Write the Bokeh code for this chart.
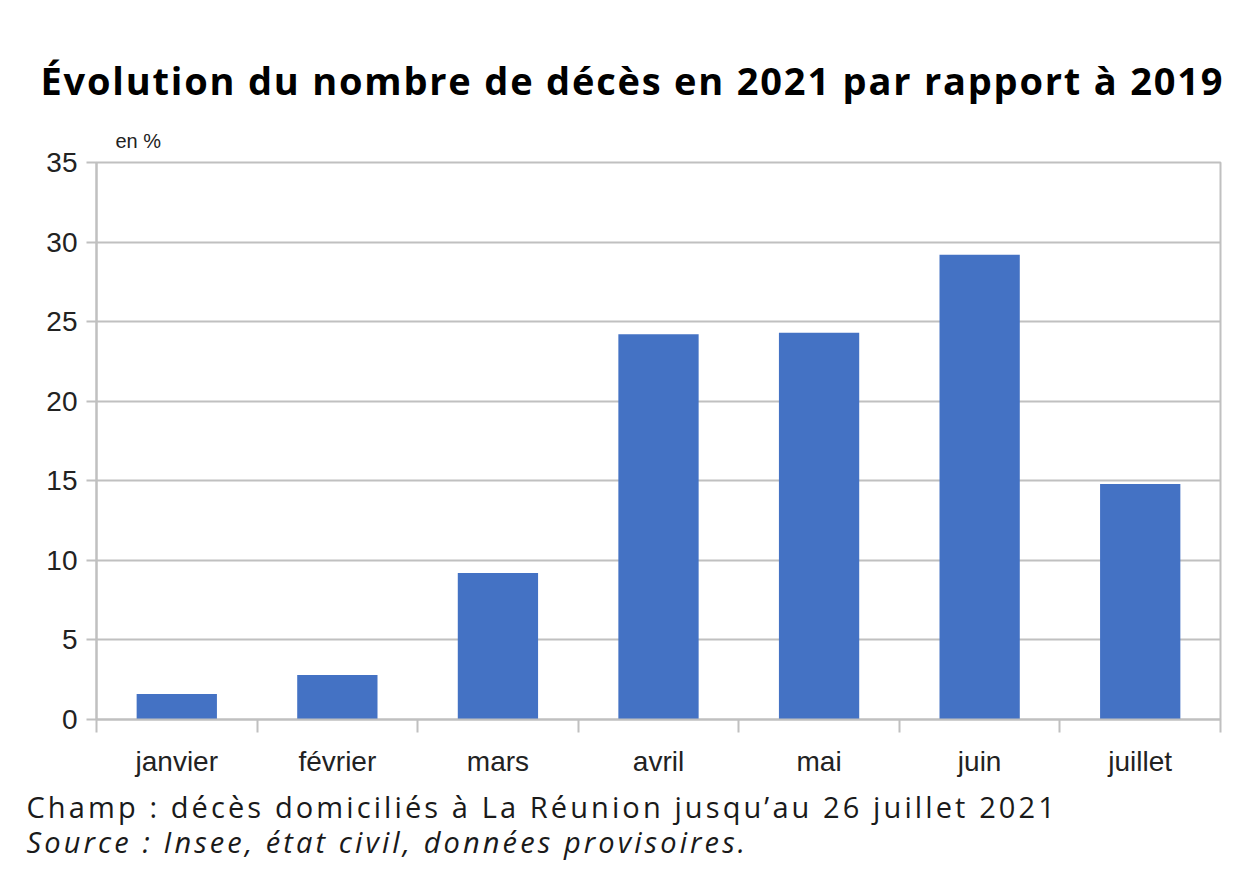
from bokeh.plotting import figure
from bokeh.models import Title, FixedTicker, Range1d, InlineStyleSheet, Label
from bokeh.layouts import column
from bokeh.embed import file_html
from bokeh.resources import INLINE

months = ["janvier", "février", "mars", "avril", "mai", "juin", "juillet"]
evolution = [1.6, 2.8, 9.2, 24.2, 24.3, 29.2, 14.8]
y_ticks = [0, 5, 10, 15, 20, 25, 30, 35]

title_text = "Évolution du nombre de décès en 2021 par rapport à 2019"
unit_text = "en %"
champ_text = "Champ : décès domiciliés à La Réunion jusqu’au 26 juillet 2021"
source_text = "Source : Insee, état civil, données provisoires."

W = 1241
HEAD_H, MAIN_H, FOOT_H = 110, 670, 91
grey = "#c0c0c0"


def text_panel(height, spacing):
    f = figure(width=W, height=height, output_backend="svg", toolbar_location=None,
               x_axis_location=None, y_axis_location=None,
               x_range=Range1d(0, 1), y_range=Range1d(0, 1),
               min_border=0, title=None, frame_align=False)
    f.outline_line_color = None
    f.background_fill_color = "white"
    f.border_fill_color = "white"
    f.grid.visible = False
    f.stylesheets = [InlineStyleSheet(css=":host { letter-spacing: %spx; }" % spacing)]
    return f


# ---- header (title) ----
head = text_panel(HEAD_H, 1.8)
head.add_layout(Label(x=40, y=31, x_units="screen", y_units="screen", text=title_text,
                      text_align="left", text_baseline="alphabetic",
                      text_font="Open Sans", text_font_style="bold",
                      text_font_size="38px", text_color="black"))

# ---- main chart ----
p = figure(width=W, height=MAIN_H, output_backend="svg", toolbar_location=None,
           x_range=Range1d(0, len(months)), y_range=Range1d(0, 35),
           min_border_left=96, min_border_right=W - 1220, min_border_top=52,
           min_border_bottom=MAIN_H - (719 - HEAD_H), title=None, frame_align=False)
p.background_fill_color = "white"
p.border_fill_color = "white"
p.outline_line_color = grey
p.outline_line_width = 2

centers = [i + 0.5 for i in range(len(months))]
p.vbar(x=centers, top=evolution, width=0.5, color="#4472C4", line_color=None)

p.yaxis.ticker = FixedTicker(ticks=y_ticks)
p.yaxis.axis_line_color = grey
p.yaxis.axis_line_width = 2
p.yaxis.major_tick_line_color = grey
p.yaxis.major_tick_line_width = 2
p.yaxis.major_tick_out = 10
p.yaxis.major_tick_in = 0
p.yaxis.minor_tick_line_color = None
p.yaxis.major_label_text_font = "Liberation Sans"
p.yaxis.major_label_text_font_size = "28px"
p.yaxis.major_label_text_color = "#222222"
p.yaxis.major_label_standoff = 9

p.xaxis.ticker = FixedTicker(ticks=centers, minor_ticks=list(range(len(months) + 1)))
p.xaxis.major_label_overrides = {c: m for c, m in zip(centers, months)}
p.xaxis.axis_line_color = grey
p.xaxis.axis_line_width = 2
p.xaxis.major_tick_line_color = None
p.xaxis.minor_tick_line_color = grey
p.xaxis.minor_tick_line_width = 2
p.xaxis.minor_tick_out = 13
p.xaxis.minor_tick_in = 0
p.xaxis.major_label_text_font = "Liberation Sans"
p.xaxis.major_label_text_font_size = "28px"
p.xaxis.major_label_text_color = "#222222"
p.xaxis.major_label_standoff = 13

p.xgrid.grid_line_color = None
p.ygrid.grid_line_color = grey
p.ygrid.grid_line_width = 2

p.add_layout(Title(text=unit_text, align="left", offset=19,
                   text_font="Liberation Sans", text_font_size="20px",
                   text_font_style="normal", text_color="#222222", standoff=22), "above")

# ---- footer ----
foot = text_panel(FOOT_H, 3.1)
foot.add_layout(Label(x=26, y=65, x_units="screen", y_units="screen", text=champ_text,
                      text_align="left", text_baseline="alphabetic",
                      text_font="Open Sans", text_font_size="29px",
                      text_font_style="normal", text_color="#1a1a1a"))
foot.add_layout(Label(x=26, y=30, x_units="screen", y_units="screen", text=source_text,
                      text_align="left", text_baseline="alphabetic",
                      text_font="Open Sans", text_font_style="italic",
                      text_font_size="29px", text_color="#1a1a1a"))

layout = column(head, p, foot, spacing=0)
open("out.html", "w").write(file_html(layout, INLINE))
